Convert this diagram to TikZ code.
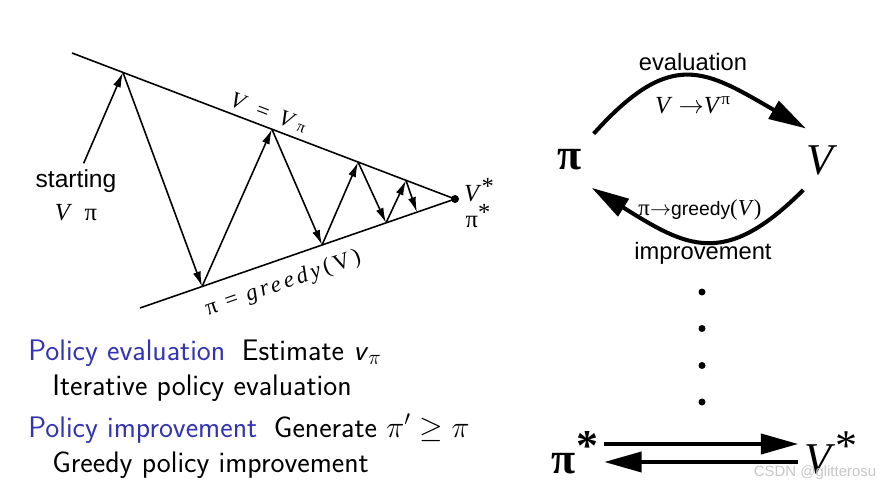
\documentclass[tikz,border=0pt]{standalone}
\usepackage{fontspec}
\usepackage{tikz}
\usetikzlibrary{arrows.meta, positioning, calc}
\newfontfamily\tms{Liberation Serif}
\newfontfamily\hel{Liberation Sans}
\newfontfamily\tmsls[LetterSpace=15]{Liberation Serif}
\definecolor{structblue}{RGB}{51,51,179}
\newcommand{\upstar}{\raisebox{0.3em}{*}}
\tikzset{
    bound/.style = {line width=0.9pt},
    zig/.style = {line width=0.9pt, -{Latex[length=3mm,width=1.6mm]}},
    cyc/.style = {line width=2.3pt, -{Triangle[length=7.5mm,width=4mm]}},
    lbl/.style = {font=\hel\fontsize{13.5}{16}\selectfont},
    big/.style = {font=\tms\fontsize{25}{30}\selectfont},
    desc/.style = {anchor=base west, inner sep=0pt, font=\sffamily\fontsize{16.9}{20}\selectfont}
}

\begin{document}
\begin{tikzpicture}
\useasboundingbox (0,0) rectangle (17.68,9.78);

% left: V line and pi line meeting at the optimum
\coordinate (vline) at (1.44,8.72);
\coordinate (pline) at (2.80,3.62);
\coordinate (conv) at (9.10,5.80);
\draw[bound] (vline) -- (conv) node[pos=0.5, sloped, above, font=\tms\fontsize{13}{15}\selectfont] {\textit{V}\enspace=\enspace\textit{V}\,{\small π}};
\draw[bound] (pline) -- (conv) node[pos=0.43, sloped, below=4pt, font=\tmsls\fontsize{13}{15}\selectfont] {π = \textit{greedy}(V)};
\fill (conv) circle (0.08);

\node[font=\tms\fontsize{14}{16}\selectfont] (vstarl) at (9.58,5.98) {\textit{V}\upstar};
\node[font=\tms\fontsize{14}{16}\selectfont] (pistarl) at (9.56,5.46) {π\upstar};

\coordinate (v1) at ($(vline)!0.133!(conv)$);
\coordinate (v2) at ($(vline)!0.522!(conv)$);
\coordinate (v3) at ($(vline)!0.747!(conv)$);
\coordinate (v4) at ($(vline)!0.872!(conv)$);
\coordinate (p1) at ($(pline)!0.197!(conv)$);
\coordinate (p2) at ($(pline)!0.578!(conv)$);
\coordinate (p3) at ($(pline)!0.781!(conv)$);
\coordinate (p4) at ($(pline)!0.879!(conv)$);

\node[font=\hel\fontsize{14}{16}\selectfont] (start) at (1.52,6.16) {starting};
\node[below=0cm of start, font=\tms\fontsize{14}{16}\selectfont] (startvp) {\textit{V}\enspace π};

\draw[zig] (start) -- (v1);
\draw[zig] (v1) -- (p1);
\draw[zig] (p1) -- (v2);
\draw[zig] (v2) -- (p2);
\draw[zig] (p2) -- (v3);
\draw[zig] (v3) -- (p3);
\draw[zig] (p3) -- (v4);
\draw[zig] (v4) -- (p4);

% right: evaluation / improvement cycle
\node[big, circle, minimum size=1.4cm, inner sep=0pt] (pol) at (11.40,6.58) {\bfseries π};
\node[big, circle, minimum size=1.4cm, inner sep=0pt] (val) at (16.44,6.58) {\textit{V}};

\draw[cyc] (pol.48) to[out=48, in=150, looseness=1.4] (val.117);
\draw[cyc] (val.238) to[out=-135, in=-32, looseness=1.35] (pol.-52);

\node[lbl] (evalname) at (13.86,8.54) {evaluation};
\node[font=\tms\fontsize{14}{16}\selectfont] (evalrule) at (13.86,7.68) {\textit{V} $\rightarrow$\textit{V}\textsuperscript{π}};
\node[font=\tms\fontsize{13}{15}\selectfont] (imprrule) at (14.00,5.58) {π$\rightarrow${\hel\fontsize{11}{13}\selectfont greedy}(\textit{V})};
\node[lbl] (imprname) at (14.06,4.72) {improvement};

\fill (14.04,3.94) circle (0.07);
\fill (14.04,3.21) circle (0.07);
\fill (14.04,2.47) circle (0.07);
\fill (14.04,1.74) circle (0.07);

\node[big] (polstar) at (11.50,0.72) {\bfseries π\upstar};
\node[big] (valstar) at (16.62,0.72) {\textit{V}\upstar};
\draw[cyc] ([yshift=0.18cm]polstar.east) -- ([yshift=0.18cm]valstar.west);
\draw[cyc] ([yshift=-0.18cm]valstar.west) -- ([yshift=-0.18cm]polstar.east);

% bottom left: the two steps
\node[desc, text=structblue] (evalhead) at (0.56,2.58) {Policy evaluation};
\node[desc, base right=0.32cm of evalhead] (evaltext) {Estimate \textit{v}$_\pi$};
\node[desc] (evalsub) at (1.04,1.88) {Iterative policy evaluation};
\node[desc, text=structblue] (imprhead) at (0.56,1.04) {Policy improvement};
\node[desc, base right=0.32cm of imprhead] (imprtext) {Generate $\pi' \geq \pi$};
\node[desc] (imprsub) at (1.04,0.34) {Greedy policy improvement};

\node[text=gray!45, font=\hel\fontsize{8.5}{10}\selectfont] (mark) at (16.30,0.32) {CSDN @glitterosu};

\end{tikzpicture}
\end{document}
